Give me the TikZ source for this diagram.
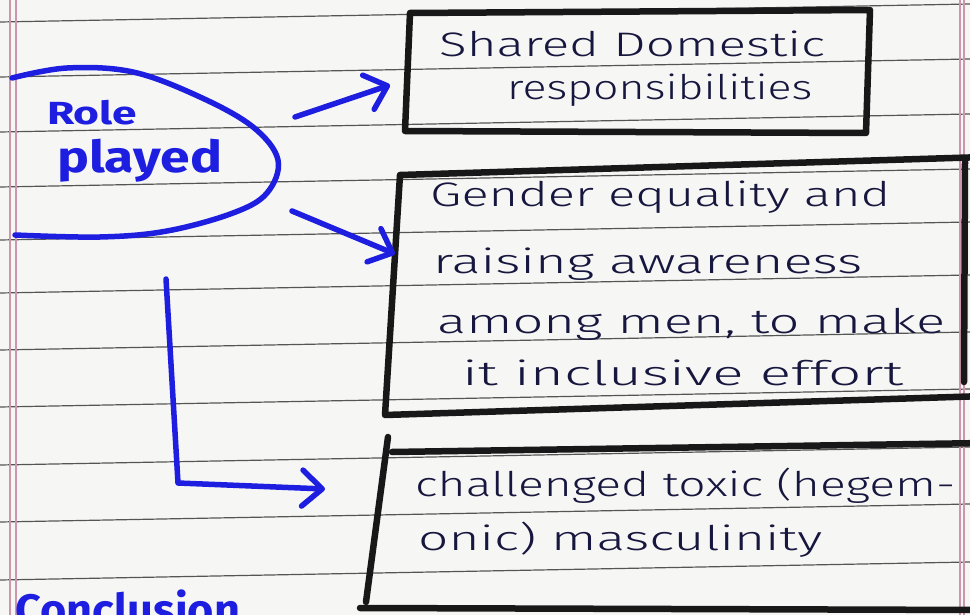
\documentclass[tikz,border=0pt]{standalone}
\usepackage{fontspec}
\usepackage{graphicx}
\usetikzlibrary{arrows.meta}
\newfontfamily\handfont{Fira Sans Light}
\newfontfamily\markfont{Fira Sans}
\definecolor{paper}{RGB}{246,246,244}
\definecolor{ruleink}{RGB}{85,85,85}
\definecolor{marginink}{RGB}{205,150,172}
\definecolor{marker}{RGB}{30,30,225}
\definecolor{ink}{RGB}{22,22,62}
\definecolor{boxink}{RGB}{24,24,24}
\newcommand{\hwline}[2]{\resizebox{#1}{\height}{#2}}
\tikzset{
  ruleline/.style={ruleink, line width=1.2pt},
  marginline/.style={marginink, line width=1.1pt},
  boxline/.style={boxink, line width=6.5pt, line join=round, line cap=round},
  markerline/.style={marker, line width=5.5pt, line cap=round, line join=round},
  markerarrow/.style={markerline, -{Straight Barb[length=20pt,width=36pt,round]}},
  hw/.style={ink, font=\handfont\fontsize{34}{34}\selectfont, inner sep=0pt, anchor=base west},
  mk/.style={marker, font=\markfont\bfseries\fontsize{44}{44}\selectfont, inner sep=0pt, anchor=base west},
}
\begin{document}
\begin{tikzpicture}[x=1pt,y=-1pt]
\useasboundingbox (0,0) rectangle (970,615);
\clip (0,0) rectangle (970,615);
\fill[paper] (0,0) rectangle (970,615);
% ruled lines
\foreach \yy in {22,77,132,187,240,293,350,407,465,522,580}
  \draw[ruleline] (0,\yy) -- (970,\yy-18);
% margin lines
\draw[marginline] (10,0) -- (10,615);
\draw[marginline] (16,0) -- (16,615);
\draw[marginline] (960,0) -- (960,615);
\draw[marginline] (964,0) -- (964,615);
% boxes
\coordinate (b1tl) at (410,13); \coordinate (b1tr) at (870,10);
\coordinate (b1br) at (866,133); \coordinate (b1bl) at (405,131);
\draw[boxline] (b1tl) -- (b1tr) -- (b1br) -- (b1bl) -- cycle;
\coordinate (b2tl) at (400,175); \coordinate (b2tr) at (985,157);
\coordinate (b2bl) at (385,415); \coordinate (b2br) at (985,396);
\coordinate (b2rt) at (965,162); \coordinate (b2rb) at (964,382);
\draw[boxline] (b2tr) -- (b2tl) -- (b2bl) -- (b2br);
\draw[boxline] (b2rt) -- (b2rb);
\coordinate (b3lt) at (388,437); \coordinate (b3lb) at (366,602);
\coordinate (b3tl) at (392,452); \coordinate (b3tr) at (985,443);
\coordinate (b3bl) at (360,608); \coordinate (b3br) at (985,610);
\draw[boxline] (b3lt) -- (b3lb);
\draw[boxline] (b3tl) -- (b3tr);
\draw[boxline] (b3bl) -- (b3br);
% box texts
\node[hw] (t1) at (439,57) {\hwline{386pt}{Shared Domestic}};
\node[hw] (t2) at (507,100) {\hwline{305pt}{responsibilities}};
\node[hw] (t3) at (430,207) {\hwline{460pt}{Gender equality and}};
\node[hw] (t4) at (433,273) {\hwline{429pt}{raising awareness}};
\node[hw] (t5) at (437,333) {\hwline{508pt}{among men, to make}};
\node[hw] (t6) at (462,385) {\hwline{441pt}{it inclusive effort}};
\node[hw] (t7) at (415,496) {\hwline{540pt}{challenged toxic (hegem-}};
\node[hw] (t8) at (418,550) {\hwline{404pt}{onic) masculinity}};
% oval
\draw[markerline] plot[smooth, tension=0.6] coordinates {(12,78) (67,68) (133,72) (200,97) (253,127) (278,160) (267,193) (233,213) (167,231) (100,237) (15,235)};
\node[mk, font=\markfont\bfseries\fontsize{32}{32}\selectfont] (role) at (47,125) {\hwline{90pt}{Role}};
\node[mk] (played) at (57,173) {\hwline{165pt}{played}};
\node[mk] (concl) at (15,625) {\hwline{225pt}{Conclusion}};
% arrows
\coordinate (a1s) at (295,117); \coordinate (a1e) at (390,85);
\coordinate (a2s) at (292,211); \coordinate (a2e) at (395,254);
\coordinate (a3s) at (166,279); \coordinate (a3m) at (178,483); \coordinate (a3e) at (325,489);
\draw[markerarrow] (a1s) -- (a1e);
\draw[markerarrow] (a2s) -- (a2e);
\draw[markerarrow] (a3s) -- (a3m) -- (a3e);
\end{tikzpicture}
\end{document}
